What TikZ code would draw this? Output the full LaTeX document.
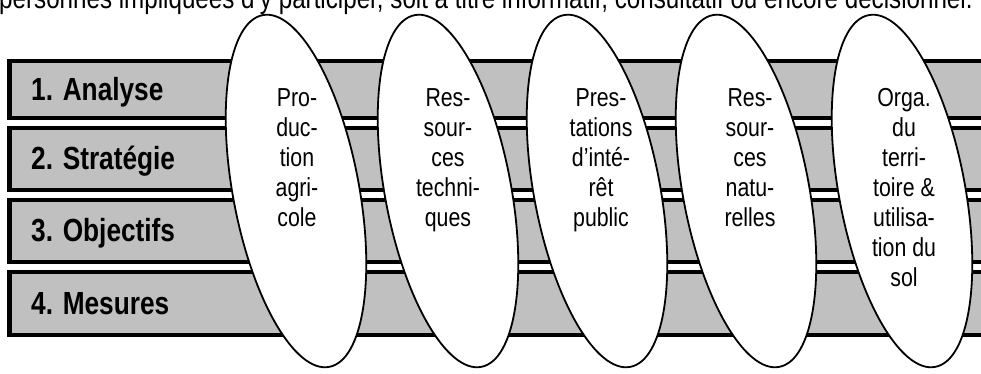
\documentclass[tikz,border=0pt]{standalone}
\usepackage{fontspec}
\setmainfont{Liberation Sans}[FakeStretch=0.82]
\definecolor{bargray}{HTML}{C0C0C0}
\begin{document}
\begin{tikzpicture}[x=1pt,y=-1pt,
  bar/.style={fill=bargray, draw=black, line width=4.4pt},
  barlabel/.style={anchor=base west, inner sep=0pt, font=\fontsize{32}{36}\selectfont\bfseries},
  oval/.style={fill=white, draw=black, line width=1.8pt},
  ovallabel/.style={anchor=north, inner sep=0pt, align=center, font=\fontsize{26}{30}\selectfont},
  introtext/.style={anchor=base west, inner sep=0pt, font=\fontsize{29.5}{33}\selectfont}]
\useasboundingbox (0,0) rectangle (981,374);
\clip (0,0) rectangle (981,374);
\fill[white] (0,0) rectangle (981,374);

\node[introtext] (intro) at (-1,8.5) {personnes impliquées d’y participer, soit à titre informatif, consultatif ou encore décisionnel.};

% bars
\draw[bar] (9.5,61) rectangle (1000,118.2);
\draw[bar] (9.5,128.2) rectangle (1000,189.8);
\draw[bar] (9.5,200.2) rectangle (1000,261.8);
\draw[bar] (9.5,272.2) rectangle (1000,334.8);

\node[barlabel] (b1) at (31,101) {1. Analyse};
\node[barlabel] (b2) at (31,169.5) {2. Stratégie};
\node[barlabel] (b3) at (31,241.5) {3. Objectifs};
\node[barlabel] (b4) at (31,314) {4. Mesures};

% ovals
\coordinate (c1) at (296,191);
\coordinate (c2) at (448,191);
\coordinate (c3) at (597,191);
\coordinate (c4) at (746,191);
\coordinate (c5) at (902,191);
\foreach \c in {c1,c2,c3,c4,c5}{
  \draw[oval, rotate around={10.7:(\c)}] (\c) ellipse [x radius=63pt, y radius=179pt];
}

\node[ovallabel] (t1) at (297,88.5) {Pro-\\duc-\\tion\\agri-\\cole};
\node[ovallabel] (t2) at (448,88.5) {Res-\\sour-\\ces\\techni-\\ques};
\node[ovallabel] (t3) at (601,88.5) {Pres-\\tations\\d’inté-\\rêt\\public};
\node[ovallabel] (t4) at (750,88.5) {Res-\\sour-\\ces\\natu-\\relles};
\node[ovallabel] (t5) at (904,88.5) {Orga.\\du\\terri-\\toire \&\\utilisa-\\tion du\\sol};
\end{tikzpicture}
\end{document}
